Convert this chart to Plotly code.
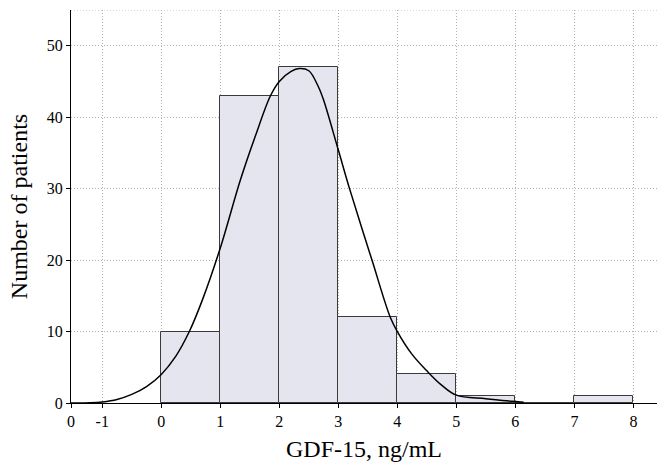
import plotly.graph_objects as go

bin_left = [0, 1, 2, 3, 4, 5, 6, 7]
counts = [10, 43, 47, 12, 4, 1, 0, 1]

curve_x = [-1.53, -1.2, -1.0, -0.75, -0.5, -0.25, 0.0, 0.25, 0.475, 0.7, 1.0, 1.34,
           1.6, 1.85, 2.0, 2.2, 2.34, 2.5, 2.66, 2.75, 3.0, 3.19, 3.57, 3.88, 4.0, 4.25,
           4.5, 4.75, 5.0, 5.5, 6.0, 6.14]
curve_y = [0.0, 0.03, 0.15, 0.5, 1.2, 2.3, 4.0, 6.6, 10.0, 14.5, 21.7, 31.2,
           37.5, 43.0, 45.0, 46.4, 46.8, 46.5, 44.3, 42.4, 35.4, 30.0, 20.0, 12.0, 10.0, 6.8,
           4.5, 2.5, 1.1, 0.6, 0.2, 0.1]

x_tickvals = [-1.53, -1, 0, 1, 2, 3, 4, 5, 6, 7, 8]
x_ticktext = ["0", "-1", "0", "1", "2", "3", "4", "5", "6", "7", "8"]
y_tickvals = [0, 10, 20, 30, 40, 50]

font_family = "Liberation Serif, Times New Roman, serif"
grid_col = "#b0b0b0"

fig = go.Figure()
fig.add_trace(go.Bar(
    x=[b + 0.5 for b in bin_left], y=counts, width=[1] * len(counts),
    marker=dict(color="#e5e5ef", line=dict(color="#3a3a3a", width=1)),
    showlegend=False, hoverinfo="skip"))
fig.add_trace(go.Scatter(
    x=curve_x, y=curve_y, mode="lines", line=dict(color="black", width=1.5, shape="spline", smoothing=1.0),
    showlegend=False))

fig.add_shape(type="line", xref="paper", yref="y", x0=0, x1=1, y0=55, y1=55,
              line=dict(color=grid_col, width=1, dash="1px,2px"), layer="below")

fig.update_layout(
    width=657, height=466,
    margin=dict(l=71, r=0, t=10, b=63),
    paper_bgcolor="white", plot_bgcolor="white",
    font=dict(family=font_family, color="black", size=16),
    bargap=0,
    xaxis=dict(range=[-1.53, 8.4], tickmode="array", tickvals=x_tickvals, ticktext=x_ticktext,
               showgrid=True, gridcolor=grid_col, griddash="1px,2px", gridwidth=1,
               showline=True, linecolor="black", linewidth=1.2,
               ticks="outside", ticklen=4, tickcolor="black",
               zeroline=False, automargin=False,
               title=dict(text="GDF-15, ng/mL", font=dict(size=24), standoff=10)),
    yaxis=dict(range=[0, 55], tickmode="array", tickvals=y_tickvals,
               showgrid=True, gridcolor=grid_col, griddash="1px,2px", gridwidth=1,
               showline=True, linecolor="black", linewidth=1.2,
               ticks="outside", ticklen=4, tickcolor="black",
               zeroline=False, automargin=False,
               title=dict(text="Number of patients", font=dict(size=24), standoff=12)),
)

fig.write_html("out.html", config={"displayModeBar": False},
               post_script="document.body.style.margin='0px';")
